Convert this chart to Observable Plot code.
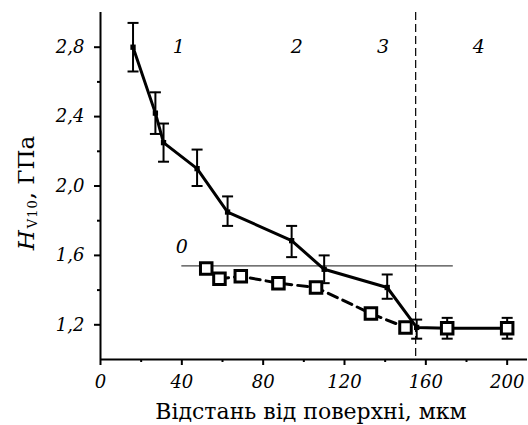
<!DOCTYPE html>
<html>
<head>
<meta charset="utf-8">
<script src="https://cdn.jsdelivr.net/npm/d3@7"></script>
<script src="https://cdn.jsdelivr.net/npm/@observablehq/plot@0.6"></script>
<style>
  html, body { margin: 0; padding: 0; background: #fff; }
  #chart { width: 528px; height: 425px; }
</style>
</head>
<body>
<div id="chart"></div>
<script>
// Series 1 (filled markers, solid line, with error bars)
const s1X  = [16, 27, 31, 47.5, 62.5, 94, 110, 141, 155.5, 170.5, 200];
const s1Y  = [2.80, 2.42, 2.25, 2.10, 1.85, 1.685, 1.52, 1.415, 1.185, 1.18, 1.18];
const s1Lo = [2.66, 2.30, 2.14, 2.00, 1.77, 1.59, 1.44, 1.35, 1.12, 1.12, 1.12];
const s1Hi = [2.94, 2.54, 2.36, 2.21, 1.94, 1.77, 1.60, 1.49, 1.23, 1.24, 1.24];
// Series 0 (open squares, dashed line)
const s0X = [52, 58.5, 69, 87.5, 106, 133, 150];
const s0Y = [1.525, 1.465, 1.48, 1.44, 1.415, 1.265, 1.185];
const s0TailX = [170.5, 200];
const s0TailY = [1.18, 1.18];
// Reference line for initial hardness
const refY = [1.54];
const refX1 = [40];
const refX2 = [173.5];
// Zone boundary
const zoneBoundary = [155];
// Zone labels
const zoneLabels = ["1", "2", "3", "4", "0"];
const zoneLabelX = [38.5, 96.5, 139, 186, 40];
const zoneLabelY = [2.8, 2.8, 2.8, 2.8, 1.65];
// Ticks
const xMajor = [0, 40, 80, 120, 160, 200];
const xMinor = [20, 60, 100, 140, 180];
const yMajor = [1.2, 1.6, 2.0, 2.4, 2.8];
const yMinor = [1.4, 1.8, 2.2, 2.6];

const s1 = s1X.map((x, i) => ({x, y: s1Y[i], lo: s1Lo[i], hi: s1Hi[i]}));
const s0 = s0X.map((x, i) => ({x, y: s0Y[i]}));
const s0t = s0TailX.map((x, i) => ({x, y: s0TailY[i]}));
const ref = refY.map((y, i) => ({y, x1: refX1[i], x2: refX2[i]}));
const labels = zoneLabels.map((t, i) => ({t, x: zoneLabelX[i], y: zoneLabelY[i]}));

const capSymbol = {
  draw(ctx, size) {
    const w = 5.5;
    ctx.moveTo(-w, 0);
    ctx.lineTo(w, 0);
  }
};

const serif = "DejaVu Serif";
const fmt = d => d3.format(".1f")(d).replace(".", ",");

const chart = Plot.plot({
  width: 528,
  height: 425,
  marginLeft: 100,
  marginRight: 1,
  marginTop: 12,
  marginBottom: 66,
  style: {fontFamily: serif, fontSize: "18px", background: "#fff", color: "#000", overflow: "visible"},
  x: {domain: [0, 210]},
  y: {domain: [1.0, 3.0]},
  marks: [
    Plot.ruleY(ref, {y: "y", x1: "x1", x2: "x2", stroke: "#444", strokeWidth: 1.2}),
    Plot.ruleX(zoneBoundary, {stroke: "#000", strokeWidth: 1.2, strokeDasharray: "8,4"}),
    // series 1
    Plot.line(s1, {x: "x", y: "y", stroke: "#000", strokeWidth: 3}),
    Plot.ruleX(s1, {x: "x", y1: "lo", y2: "hi", stroke: "#000", strokeWidth: 2}),
    Plot.dot(s1, {x: "x", y: "lo", symbol: capSymbol, stroke: "#000", fill: "none", strokeWidth: 2, r: 5}),
    Plot.dot(s1, {x: "x", y: "hi", symbol: capSymbol, stroke: "#000", fill: "none", strokeWidth: 2, r: 5}),
    Plot.dot(s1, {x: "x", y: "y", symbol: "square", fill: "#000", stroke: "none", r: 3}),
    // series 0
    Plot.line(s0, {x: "x", y: "y", stroke: "#000", strokeWidth: 3, strokeDasharray: "10,6"}),
    Plot.dot(s0, {x: "x", y: "y", symbol: "square", fill: "#fff", stroke: "#000", strokeWidth: 3, r: 6.5}),
    Plot.dot(s0t, {x: "x", y: "y", symbol: "square", fill: "#fff", stroke: "#000", strokeWidth: 3, r: 6.5}),
    // zone labels
    Plot.text(labels, {x: "x", y: "y", text: "t", fontStyle: "italic", fontSize: 19, fontFamily: serif, fill: "#000"}),
    // axes
    Plot.axisY(yMajor, {tickSize: 6, tickPadding: 10, tickFormat: fmt, fontStyle: "italic", fontSize: 18, fontFamily: serif, stroke: "#000", strokeWidth: 2, fill: "#000", label: null}),
    Plot.axisY(yMinor, {tickSize: 3, text: null, stroke: "#000", strokeWidth: 2, label: null}),
    Plot.axisX(xMajor, {tickSize: 6, tickPadding: 10, tickFormat: d => String(d), fontStyle: "italic", fontSize: 18, fontFamily: serif, stroke: "#000", strokeWidth: 2, fill: "#000", label: null}),
    Plot.axisX(xMinor, {tickSize: 3, text: null, stroke: "#000", strokeWidth: 2, label: null}),
    Plot.ruleX([0], {stroke: "#000", strokeWidth: 2}),
    Plot.ruleY([1.0], {stroke: "#000", strokeWidth: 2})
  ]
});

const svg = d3.select(chart);
// x axis title
svg.append("text")
  .attr("x", 311).attr("y", 419)
  .attr("text-anchor", "middle")
  .attr("font-family", serif).attr("font-size", 22).attr("fill", "#000")
  .text("Відстань від поверхні, мкм");
// y axis title with subscript
const yt = svg.append("text")
  .attr("transform", "translate(34,193) rotate(-90)")
  .attr("text-anchor", "middle")
  .attr("font-family", serif).attr("font-size", 23).attr("fill", "#000");
yt.append("tspan").attr("font-style", "italic").text("H");
yt.append("tspan").attr("font-size", 13).attr("dy", 3).attr("dx", 2).attr("letter-spacing", 1).text("V10");
yt.append("tspan").attr("dy", -3).text(", ГПа");

document.getElementById("chart").appendChild(chart);
</script>
</body>
</html>
